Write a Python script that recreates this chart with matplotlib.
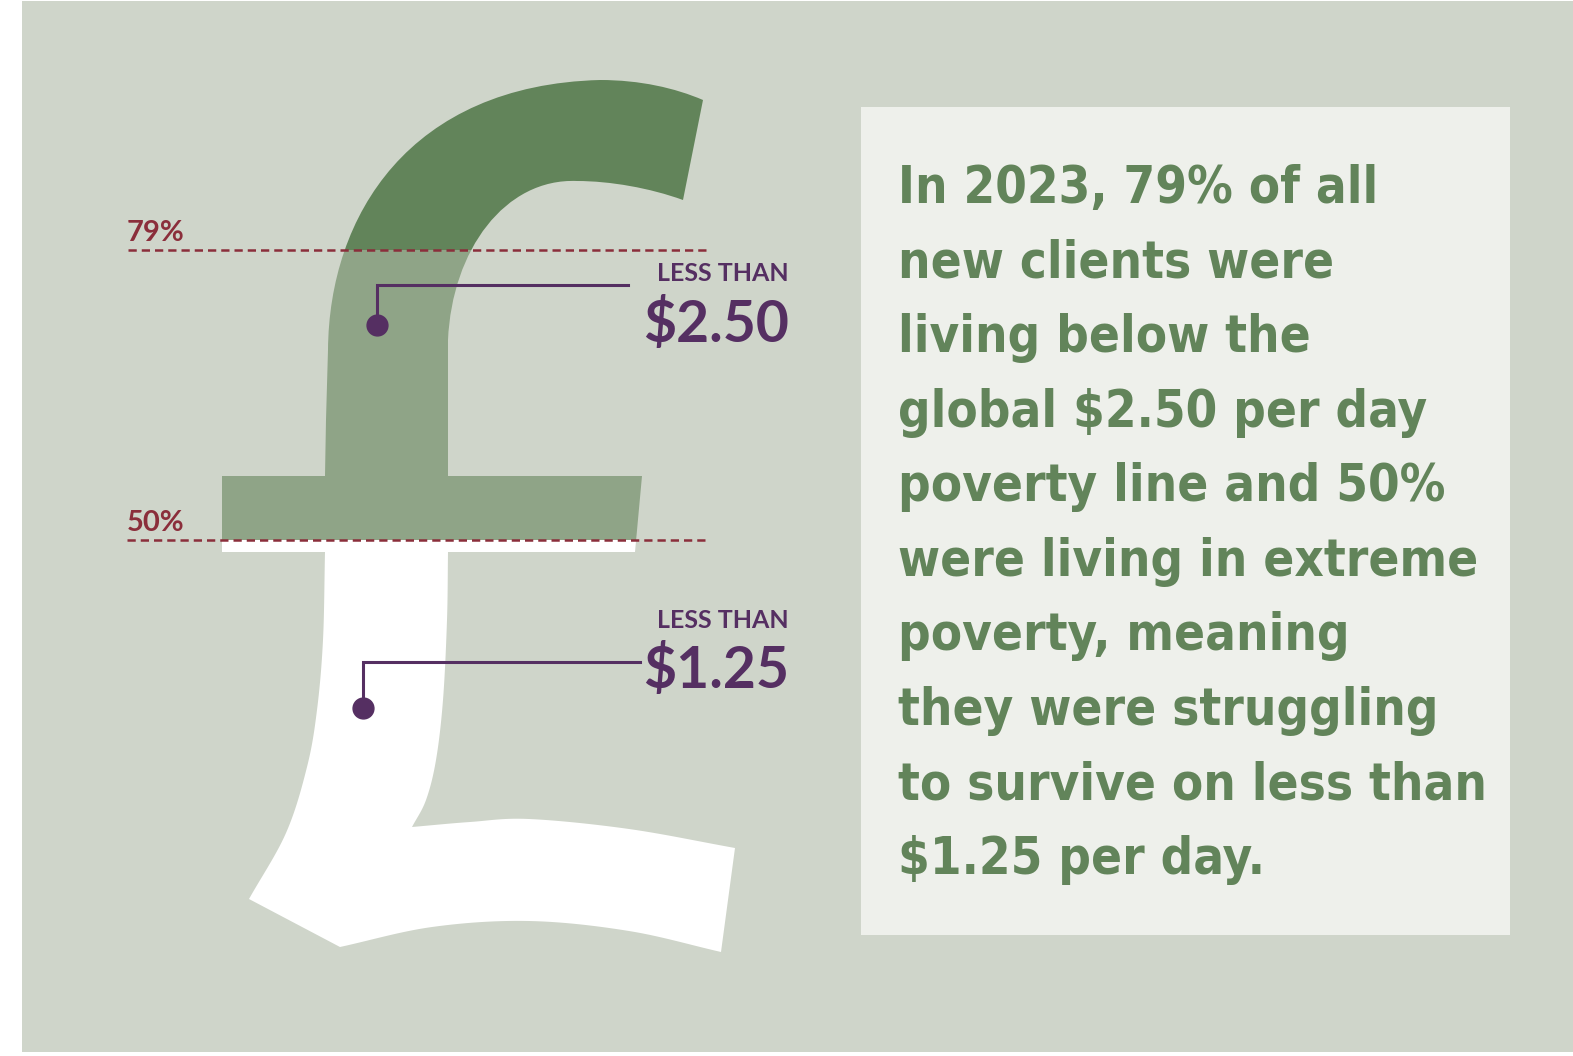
import numpy as np
import matplotlib
matplotlib.use("Agg")
import matplotlib.pyplot as plt
from matplotlib.path import Path
from matplotlib.patches import PathPatch, Rectangle

# data
shares = [79, 50]                      # % of new clients below each line
share_labels = ["79%", "50%"]
thresholds = ["$2.50", "$1.25"]
band_colors = ["#ffffff", "#8fa487", "#62845a"]   # below 50, 50-79, above 79
panel_lines = [
    "In 2023, 79% of all",
    "new clients were",
    "living below the",
    "global $2.50 per day",
    "poverty line and 50%",
    "were living in extreme",
    "poverty, meaning",
    "they were struggling",
    "to survive on less than",
    "$1.25 per day.",
]

BG = "#cfd5ca"
PANEL = "#eef0eb"
GREEN = "#62845a"
PURPLE = "#552f62"
RED = "#8b2e3b"


def py(y):
    # pixel row of the layout -> percent scale of the chart
    return (1040 - np.asarray(y, float)) / 10.0


def smooth(pts, n=14):
    pts = np.asarray(pts, float)
    p = np.vstack([pts[0] * 2 - pts[1], pts, pts[-1] * 2 - pts[-2]])
    out = []
    for i in range(1, len(p) - 2):
        p0, p1, p2, p3 = p[i - 1], p[i], p[i + 1], p[i + 2]
        for t in np.linspace(0, 1, n, endpoint=False):
            out.append(0.5 * (2 * p1 + (-p0 + p2) * t
                              + (2 * p0 - 5 * p1 + 4 * p2 - p3) * t * t
                              + (-p0 + 3 * p1 - 3 * p2 + p3) * t ** 3))
    out.append(pts[-1])
    return [tuple(q) for q in out[1:]]


# outline of the pound sign (layout pixels)
verts = [(222, 476)]
codes = [Path.MOVETO]


def line(*pts):
    for p in pts:
        verts.append(p)
        codes.append(Path.LINETO)


def curve(c1, c2, p):
    verts.extend([c1, c2, p])
    codes.extend([Path.CURVE4] * 3)


line((325, 476), (326, 420), (328, 350))
curve((329, 215), (410, 85), (600, 80))
curve((640, 80), (675, 88), (703, 100))
line((683, 200))
curve((650, 188), (610, 181), (577, 181))
curve((505, 178), (452, 250), (448, 340))
line((448, 476), (642, 476), (635, 552), (448, 552))
line(*smooth([(448, 552), (447, 620), (443, 700), (436, 760), (426, 800), (412, 827)]))
line(*smooth([(412, 827), (470, 822), (529, 819), (629, 829), (735, 848)]))
line((721, 952))
line(*smooth([(721, 952), (629, 931), (529, 921), (432, 927), (340, 947)]))
line((249, 899))
line(*smooth([(249, 899), (286, 833), (307, 767), (317, 710), (323, 640), (325, 552)]))
line((222, 552))
verts.append((222, 476))
codes.append(Path.CLOSEPOLY)

verts = np.array(verts, float)
verts[:, 1] = py(verts[:, 1])
glyph_path = Path(verts, codes)

fig = plt.figure(figsize=(15.73, 10.56), dpi=100, facecolor="white")
ax = fig.add_axes([0, 0, 1, 1])
ax.set_xlim(0, 1573)
ax.set_ylim(py(1056), py(0))
ax.axis("off")

ax.add_patch(Rectangle((22, py(1052)), 1573, py(1) - py(1052), facecolor=BG,
                       edgecolor="none", zorder=0))

glyph = PathPatch(glyph_path, facecolor="none", edgecolor="none")
ax.add_patch(glyph)

# filled bands of the glyph
levels = [0] + sorted(shares) + [py(0)]
for lo, hi, col in zip(levels[:-1], levels[1:], band_colors):
    bars = ax.bar(480, hi - lo, bottom=lo, width=620, color=col, zorder=2)
    for b in bars:
        b.set_clip_path(glyph)

# dashed share lines with labels
line_x = [(128, 710), (127, 707)]
for v, lab, (x0, x1) in zip(shares, share_labels, line_x):
    ax.hlines(v, x0, x1, colors=RED, linestyles=(0, (3.3, 2.0)), linewidth=1.8, zorder=4)
    ax.text(127, v + 0.9, lab, color=RED, fontsize=21, fontweight="bold",
            family=["Lato", "DejaVu Sans"], ha="left", va="baseline", zorder=5)

# threshold call-outs
callouts = [
    dict(y_less=281, y_val=342, x_right=789, line_y=285, line_x=628, dot=(377, 325)),
    dict(y_less=628, y_val=688, x_right=789, line_y=662, line_x=640, dot=(363, 708)),
]
for th, c in zip(thresholds, callouts):
    ax.text(c["x_right"], py(c["y_less"]), "LESS THAN", color=PURPLE, fontsize=18,
            fontweight="bold", family=["Lato", "DejaVu Sans"], ha="right", va="baseline")
    ax.text(c["x_right"], py(c["y_val"]), th, color=PURPLE, fontsize=41,
            fontweight="bold", family=["Lato", "DejaVu Sans"], ha="right", va="baseline")
    dx, dy = c["dot"]
    ax.plot([c["line_x"], dx, dx], py([c["line_y"], c["line_y"], dy]), color=PURPLE,
            linewidth=2.2, solid_joinstyle="miter", zorder=6)
    ax.plot(dx, py(dy), "o", color=PURPLE, markersize=15, zorder=6)

# text panel
ax.add_patch(Rectangle((861, py(935)), 1510 - 861, py(107) - py(935), facecolor=PANEL,
                       edgecolor="none", zorder=1))
baselines = [203, 278, 352, 427, 501, 576, 650, 725, 800, 874]
texts = []
for line_txt, b in zip(panel_lines, baselines):
    t = ax.text(898, py(b), line_txt, color=GREEN, fontsize=46, fontweight="bold",
                family=["DejaVu Sans", "Liberation Sans"], fontstretch="condensed",
                ha="left", va="baseline", zorder=3)
    texts.append(t)

# fit the widest panel line to the panel width
fig.canvas.draw()
r = fig.canvas.get_renderer()
widest = max(t.get_window_extent(r).width for t in texts)
scale = 588.0 / widest
for t in texts:
    t.set_fontsize(46 * scale)

fig.savefig("out.png", dpi=100, facecolor="white")
